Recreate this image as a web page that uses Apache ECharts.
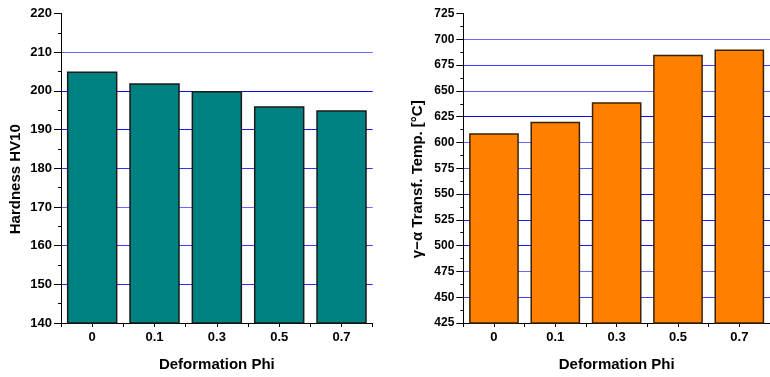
<!DOCTYPE html>
<html>
<head>
<meta charset="utf-8">
<script src="https://cdn.jsdelivr.net/npm/echarts@6/dist/echarts.min.js"></script>
<style>
  html, body { margin: 0; padding: 0; background: #fff; }
  #chart { width: 770px; height: 377px; }
</style>
</head>
<body>
<div id="chart"></div>
<script>
// Deformation levels shared by both panels
const phiLevels = ['0', '0.1', '0.3', '0.5', '0.7'];
// Vickers hardness for each deformation level
const hardness = [205, 202, 200, 196, 195];
// gamma -> alpha transformation temperature, °C
const transfTemp = [609, 620, 639, 685, 690];

const FONT = "'Liberation Sans', Arial, sans-serif";

// grid line shades, listed from the lowest drawn line upwards
const hardnessGridColors = ['#2a2aff', '#3c3cff', '#6868ff', '#3030ff', '#1818f0', '#0c0ce6', '#6868ff'];
const tempGridColors = ['#3c3cff', '#6868ff', '#1818f0', '#1818f0', '#1818f0', '#5050ff',
                        '#6868ff', '#0c0ce6', '#5c5cff', '#3c3cff', '#6868ff'];

const chart = echarts.init(document.getElementById('chart'), null, { renderer: 'canvas' });

function valueAxis(gridIndex, min, max, interval, name, labelSize, gridColors) {
  return {
    type: 'value',
    gridIndex: gridIndex,
    min: min,
    max: max,
    interval: interval,
    name: name,
    nameLocation: 'middle',
    nameGap: 38,
    nameTextStyle: {
      fontFamily: FONT, fontWeight: 'bold', fontSize: 15, color: '#000',
      padding: [0, 22, 0, 0]
    },
    axisLine: { show: true, lineStyle: { color: '#000', width: 1 } },
    axisTick: { show: true, inside: false, length: 7, lineStyle: { color: '#000' } },
    minorTick: { show: true, splitNumber: 2, length: 3, lineStyle: { color: '#000' } },
    axisLabel: {
      fontFamily: FONT, fontWeight: 'bold', fontSize: labelSize, color: '#000', margin: 9
    },
    splitLine: {
      show: true, showMinLine: false, showMaxLine: false,
      lineStyle: { color: gridColors, width: 1 }
    }
  };
}

function categoryAxis(gridIndex) {
  return {
    type: 'category',
    gridIndex: gridIndex,
    position: 'bottom',
    data: phiLevels,
    name: 'Deformation Phi',
    nameLocation: 'middle',
    nameGap: 34,
    nameTextStyle: { fontFamily: FONT, fontWeight: 'bold', fontSize: 15, color: '#000' },
    axisLine: { show: true, lineStyle: { color: '#000', width: 1 } },
    axisTick: { show: true, alignWithLabel: false, length: 4, lineStyle: { color: '#000' } },
    axisLabel: { fontFamily: FONT, fontWeight: 'bold', fontSize: 13, color: '#000', margin: 8 },
    splitLine: { show: false }
  };
}

// extra category axis carrying the ticks under each bar centre
function centreTickAxis(gridIndex) {
  return {
    type: 'category',
    gridIndex: gridIndex,
    position: 'bottom',
    data: phiLevels,
    axisLine: { show: false },
    axisTick: { show: true, alignWithLabel: true, length: 4, lineStyle: { color: '#000' } },
    axisLabel: { show: false },
    splitLine: { show: false }
  };
}

const option = {
  backgroundColor: '#fff',
  animation: false,
  grid: [
    { left: 61, top: 13.5, width: 311.7, height: 310 },
    { left: 463.3, top: 13.5, width: 311.5, height: 310 }
  ],
  xAxis: [
    categoryAxis(0),
    categoryAxis(1),
    centreTickAxis(0),
    centreTickAxis(1)
  ],
  yAxis: [
    valueAxis(0, 140, 220, 10, 'Hardness HV10', 13, hardnessGridColors),
    valueAxis(1, 425, 725, 25, 'γ−α Transf. Temp. [°C]', 12, tempGridColors)
  ],
  series: [
    {
      type: 'bar',
      xAxisIndex: 0,
      yAxisIndex: 0,
      data: hardness,
      barCategoryGap: '19%',
      itemStyle: { color: '#008080', borderColor: '#1a1a1a', borderWidth: 1.5 }
    },
    {
      type: 'bar',
      xAxisIndex: 1,
      yAxisIndex: 1,
      data: transfTemp,
      barCategoryGap: '19%',
      itemStyle: { color: '#ff8000', borderColor: '#3a2200', borderWidth: 1.5 }
    }
  ]
};

chart.setOption(option);
</script>
</body>
</html>
